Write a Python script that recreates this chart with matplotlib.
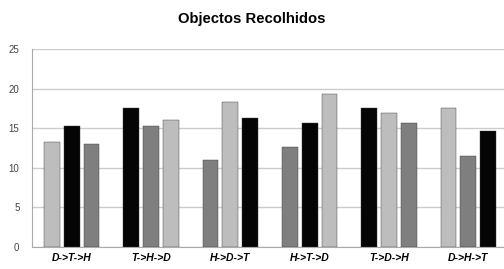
import matplotlib.pyplot as plt
import numpy as np

# sequence of visits; each bar is coloured by the letter it stands for
categories = ['D->T->H', 'T->H->D', 'H->D->T', 'H->T->D', 'T->D->H', 'D->H->T']
first = [13.3, 17.6, 11.0, 12.6, 17.6, 17.6]
second = [15.3, 15.3, 18.3, 15.6, 16.9, 11.5]
third = [13.0, 16.0, 16.3, 19.3, 15.6, 14.6]

letter_colors = {'D': '#bdbdbd', 'T': '#050505', 'H': '#7f7f7f'}

plt.rcParams['font.family'] = ['Liberation Sans', 'DejaVu Sans']

fig = plt.figure(figsize=(5.04, 2.69), dpi=100)
ax = fig.add_axes([32 / 504, 22 / 269, 1 - 32 / 504, 198 / 269])

x = np.arange(len(categories))
for i, vals in enumerate([first, second, third]):
    cols = [letter_colors[c.split('->')[i]] for c in categories]
    ax.bar(x + (i - 1) * 0.25, vals, width=0.2, color=cols,
           edgecolor='#3a3a3a', linewidth=0.3, zorder=3)

ax.set_xlim(-0.5, 5.45)
ax.set_ylim(0, 25)
ax.set_yticks([0, 5, 10, 15, 20, 25])
ax.set_xticks(x)
ax.set_xticklabels(categories, fontsize=7.5, fontweight='bold', style='italic')
ax.tick_params(axis='y', labelsize=7, labelcolor='#444444', length=0, pad=9)
ax.tick_params(axis='x', length=0, pad=4)
ax.grid(axis='y', color='#cccccc', linewidth=1, zorder=0)

for s in ['top', 'right']:
    ax.spines[s].set_visible(False)
ax.spines['left'].set_color('#aaaaaa')
ax.spines['bottom'].set_color('#aaaaaa')

fig.suptitle('Objectos Recolhidos', fontsize=10.7, fontweight='bold', y=0.957)

plt.savefig('out.png', dpi=100)
